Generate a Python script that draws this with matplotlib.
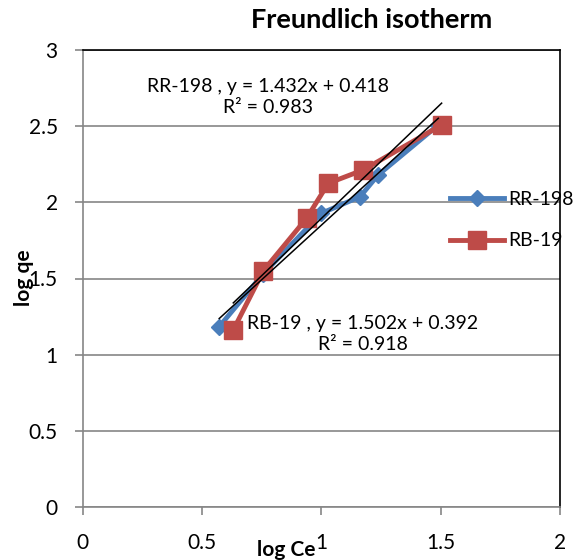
import matplotlib
matplotlib.use("Agg")
import matplotlib.pyplot as plt
import numpy as np

plt.rcParams['font.family'] = ['Lato', 'DejaVu Sans']

# data (log Ce, log qe)
rr_x = [0.572, 0.756, 1.0, 1.162, 1.238, 1.49]
rr_y = [1.184, 1.53, 1.928, 2.037, 2.18, 2.508]
rb_x = [0.631, 0.757, 0.938, 1.029, 1.176, 1.504]
rb_y = [1.162, 1.551, 1.895, 2.125, 2.213, 2.508]

# fitted lines as printed on the chart
rr_fit = (1.432, 0.418, 0.983)
rb_fit = (1.502, 0.392, 0.918)

x_ticks = [0, 0.5, 1, 1.5, 2]
y_ticks = [0, 0.5, 1, 1.5, 2, 2.5, 3]

W, H = 576, 560
fig = plt.figure(figsize=(W / 100, H / 100), dpi=100)
ax = fig.add_axes([82.7 / W, 1 - 507 / H, (560 - 82.7) / W, (507 - 50) / H])

blue = '#4A7EBB'
red = '#BE4B48'
grid_gray = '#868686'

ax.set_xlim(0, 2)
ax.set_ylim(0, 3)
ax.set_xticks(x_ticks)
ax.set_yticks(y_ticks)
ax.set_xticklabels(['0', '0.5', '1', '1.5', '2'])
ax.set_yticklabels(['0', '0.5', '1', '1.5', '2', '2.5', '3'])
ax.yaxis.grid(True, color=grid_gray, linewidth=1.2)
ax.set_axisbelow(True)

for s in ['left', 'bottom']:
    ax.spines[s].set_color(grid_gray)
    ax.spines[s].set_linewidth(1.2)
for s in ['top', 'right']:
    ax.spines[s].set_color('black')
    ax.spines[s].set_linewidth(1.2)

ax.tick_params(axis='both', direction='out', length=6, width=1.2,
               color=grid_gray, labelsize=15)
ax.tick_params(axis='x', pad=13)
ax.tick_params(axis='y', pad=12)

l1, = ax.plot(rr_x, rr_y, color=blue, linewidth=3.5, marker='D',
              markersize=8, markeredgecolor=blue, label='RR-198', zorder=3)
l2, = ax.plot(rb_x, rb_y, color=red, linewidth=3.5, marker='s',
              markersize=13, markeredgecolor=red, label='RB-19', zorder=4)

# trendlines
for xs, fit in [(rr_x, rr_fit), (rb_x, rb_fit)]:
    xx = np.array([min(xs), max(xs)])
    ax.plot(xx, fit[0] * xx + fit[1], color='black', linewidth=1.1, zorder=5)

def fig_xy(px, py):
    return px / W, 1 - py / H

fig.text(*fig_xy(268, 97), 'RR-198 , y = %.3fx + %.3f\nR² = %.3f' % rr_fit,
         ha='center', va='center', multialignment='center', fontsize=14,
         linespacing=1.3)
fig.text(*fig_xy(363, 334), 'RB-19 , y = %.3fx + %.3f\nR² = %.3f' % rb_fit,
         ha='center', va='center', multialignment='center', fontsize=14,
         linespacing=1.3)

fig.text(*fig_xy(372, 20), 'Freundlich isotherm', ha='center', va='center',
         fontsize=19.5, fontweight='bold')
fig.text(*fig_xy(286, 550), 'log Ce', ha='center', va='center',
         fontsize=15, fontweight='bold')
fig.text(*fig_xy(24, 278), 'log qe', ha='center', va='center',
         fontsize=15, fontweight='bold', rotation=90)

leg = fig.legend(handles=[l1, l2], loc='upper left',
                 bbox_to_anchor=fig_xy(450, 191), frameon=False,
                 fontsize=14, handlelength=2.8, handletextpad=0.2,
                 labelspacing=1.25, borderpad=0, borderaxespad=0)

fig.savefig('out.png', dpi=100)
